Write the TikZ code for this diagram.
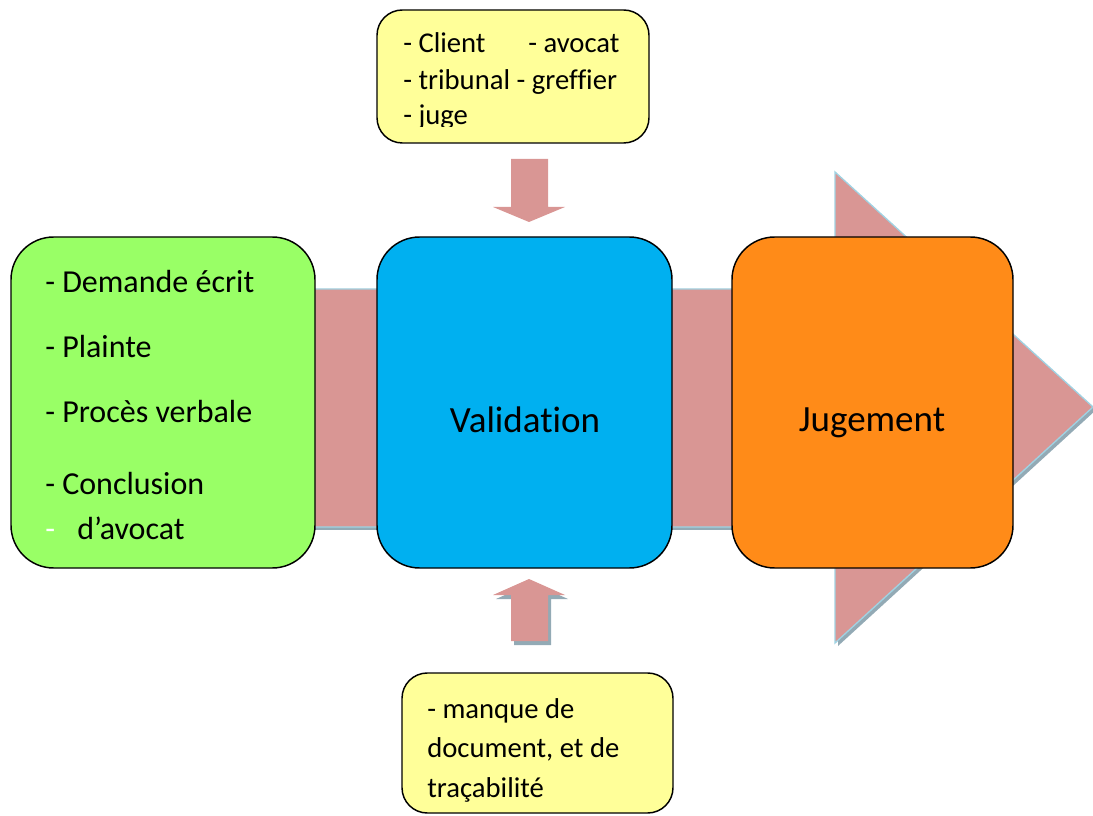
\documentclass[tikz,border=0pt]{standalone}
\usepackage{fontspec}
\setmainfont{Carlito}[Ligatures=NoCommon]
\definecolor{arrowfill}{RGB}{217,150,148}
\definecolor{arrowshadow}{RGB}{147,170,181}
\definecolor{arrowedge}{RGB}{160,210,226}
\definecolor{boxgreen}{RGB}{153,255,102}
\definecolor{boxblue}{RGB}{0,176,240}
\definecolor{boxorange}{RGB}{255,139,24}
\definecolor{boxyellow}{RGB}{255,255,153}
\tikzset{
  stage/.style={draw=black, line width=1.1pt, rounded corners=32pt, inner sep=0pt},
  note/.style={draw=black, line width=1.1pt, rounded corners=19pt, fill=boxyellow, inner sep=0pt},
  txt/.style={anchor=base west, inner sep=0pt, font=\fontsize{24pt}{28pt}\selectfont},
  notetxt/.style={anchor=base west, inner sep=0pt, font=\fontsize{21.5pt}{26pt}\selectfont},
  bigtxt/.style={anchor=base, inner sep=0pt, font=\fontsize{27.75pt}{32pt}\selectfont},
  blockarrow/.style={fill=arrowfill, draw=arrowedge, line width=1pt},
  blockshadow/.style={fill=arrowshadow},
}
\begin{document}
\begin{tikzpicture}[x=0.75pt, y=-0.75pt]
\useasboundingbox (0,0) rectangle (1093,816);

% main process arrow with its shadow
\fill[blockshadow] (103,292) -- (838,292) -- (838,175) -- (1096,410) -- (838,646) -- (838,530) -- (103,530) -- cycle;
\path[blockarrow] (100,289) -- (835,289) -- (835,172) -- (1093,407) -- (835,643) -- (835,527) -- (100,527) -- cycle;

% three stages
\node[stage, fill=boxgreen, minimum width=228pt, minimum height=248.25pt] (entree) at (163,402.5) {};
\node[stage, fill=boxblue, minimum width=221.25pt, minimum height=248.25pt] (valid) at (524.5,402.5) {};
\node[stage, fill=boxorange, minimum width=210.75pt, minimum height=248.25pt] (jug) at (872.5,402.5) {};

% input documents
\node[txt] (t1) at (45,293) {- Demande écrit};
\node[txt] (t2) at (45,358) {- Plainte};
\node[txt] (t3) at (45,423) {- Procès verbale};
\node[txt] (t4) at (45,495) {- Conclusion};
\node[txt, text=white] (t5d) at (45,540) {-};
\node[txt] (t5) at (77,540) {d’avocat};

\node[bigtxt] (lv) at (525,433) {Validation};
\node[bigtxt] (lj) at (872,432) {Jugement};

% actors
\node[note, minimum width=204pt, minimum height=99.75pt] (acteurs) at (513,76.5) {};
\node[notetxt] (a1) at (403,53) {- Client};
\node[notetxt] (a2) at (528,53) {- avocat};
\node[notetxt] (a3) at (403,90) {- tribunal - greffier};
\begin{scope}
  \clip (377,10) rectangle (649,127);
  \node[notetxt] (a4) at (403,125) {- juge};
\end{scope}

% problems
\node[note, minimum width=203.25pt, minimum height=105pt] (manque) at (537.5,743) {};
\node[notetxt] (m1) at (427,718) {- manque de};
\node[notetxt] (m2) at (427,757) {document, et de};
\node[notetxt] (m3) at (427,797) {traçabilité};

% small arrows towards the validation stage
\fill[arrowfill] (511,159) -- (548,159) -- (548,207) -- (565,207) -- (529,222) -- (493,207) -- (511,207) -- cycle;
\fill[blockshadow] (532,583) -- (568,599) -- (551,599) -- (551,645) -- (514,645) -- (514,599) -- (496,599) -- cycle;
\fill[arrowfill] (529,579) -- (565,595) -- (548,595) -- (548,641) -- (511,641) -- (511,595) -- (493,595) -- cycle;
\end{tikzpicture}
\end{document}
